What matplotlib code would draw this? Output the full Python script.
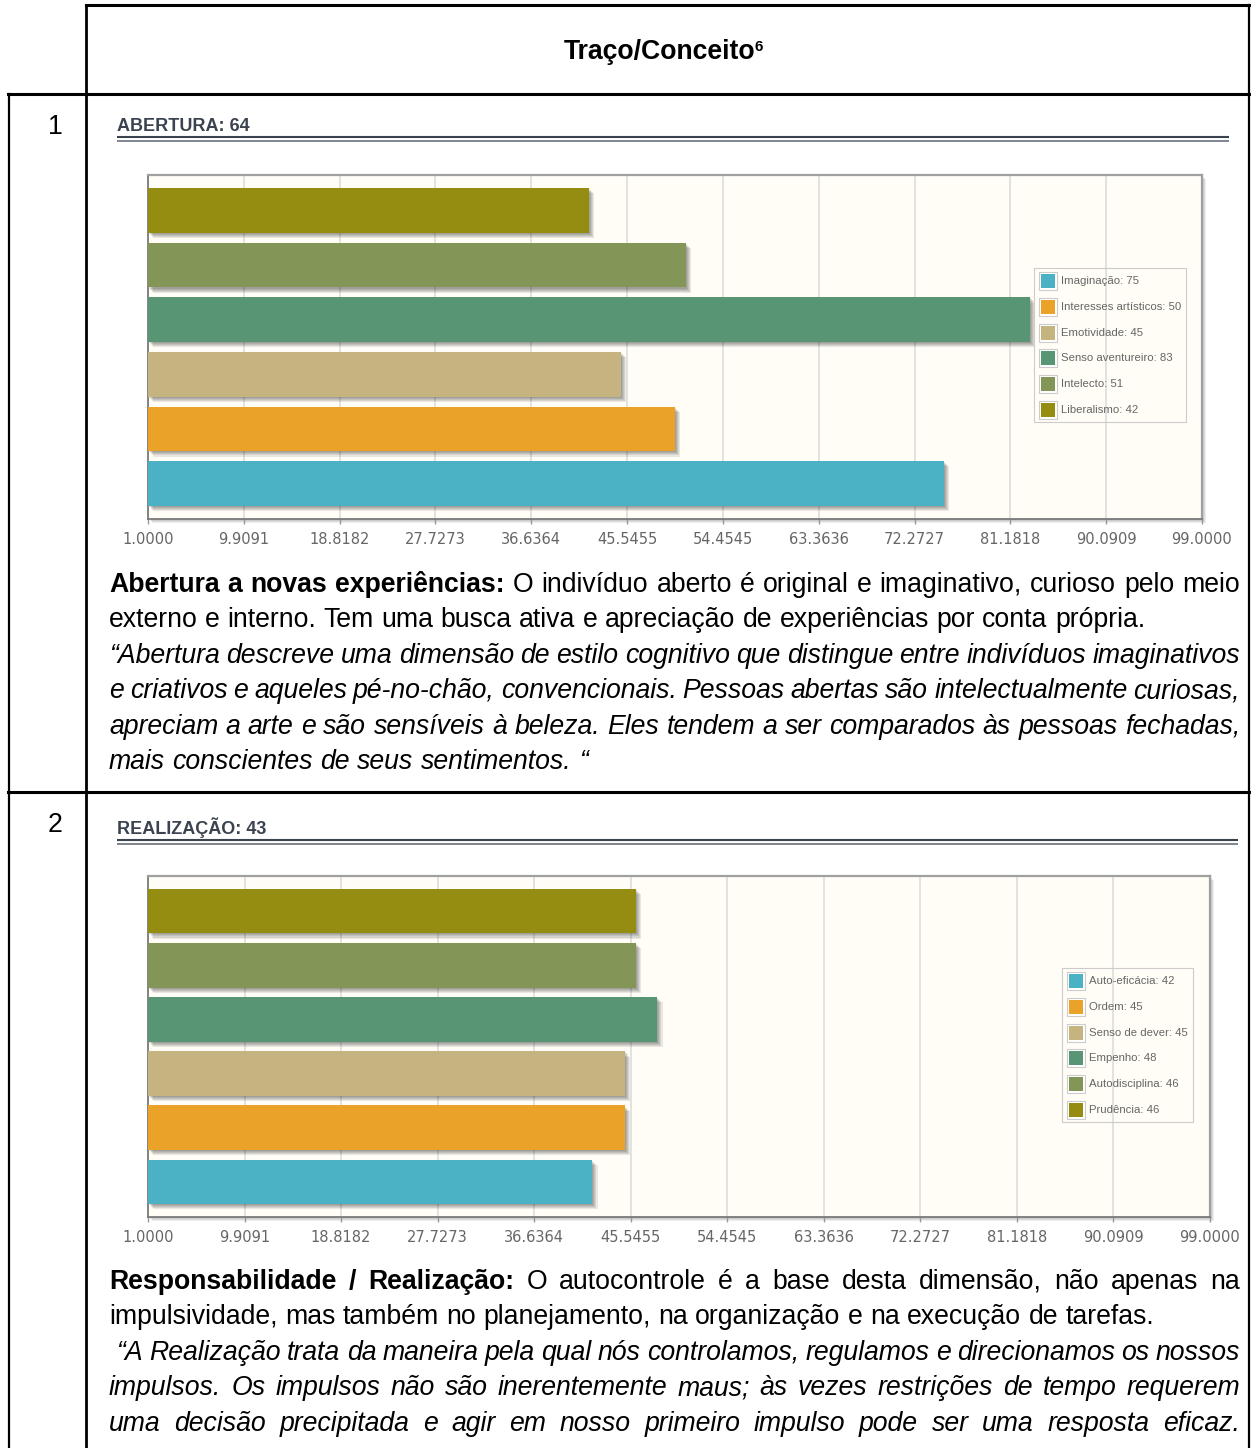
import matplotlib
matplotlib.use("Agg")
import matplotlib.pyplot as plt
import matplotlib.patheffects as pe
from matplotlib.patches import Rectangle
import numpy as np

W, H = 1251, 1448
FONT = "Liberation Sans"

# jqPlot default series colours
series_colors = ["#4bb2c5", "#eaa228", "#c5b47f", "#579575", "#839557", "#958c12"]

tick_values = [1.0, 9.9091, 18.8182, 27.7273, 36.6364, 45.5455,
               54.4545, 63.3636, 72.2727, 81.1818, 90.0909, 99.0]

abertura_title = "ABERTURA: 64"
abertura_labels = ["Imaginação", "Interesses artísticos", "Emotividade",
                   "Senso aventureiro", "Intelecto", "Liberalismo"]
abertura_values = [75, 50, 45, 83, 51, 42]

realizacao_title = "REALIZAÇÃO: 43"
realizacao_labels = ["Auto-eficácia", "Ordem", "Senso de dever",
                     "Empenho", "Autodisciplina", "Prudência"]
realizacao_values = [42, 45, 45, 48, 46, 46]

# paragraph lines: (runs, justified); run = (text, style)
abertura_text = [
    ([("Abertura a novas experiências:", "b"),
      ("O indivíduo aberto é original e imaginativo, curioso pelo meio", "r")], True),
    ([("externo e interno. Tem uma busca ativa e apreciação de experiências por conta própria.", "r")], False),
    ([("“Abertura descreve uma dimensão de estilo cognitivo que distingue entre indivíduos imaginativos", "i")], True),
    ([("e criativos e aqueles pé-no-chão, convencionais. Pessoas abertas são intelectualmente curiosas,", "i")], True),
    ([("apreciam a arte e são sensíveis à beleza. Eles tendem a ser comparados às pessoas fechadas,", "i")], True),
    ([("mais conscientes de seus sentimentos. “", "i")], False),
]
realizacao_text = [
    ([("Responsabilidade / Realização:", "b"),
      ("O autocontrole é a base desta dimensão, não apenas na", "r")], True),
    ([("impulsividade, mas também no planejamento, na organização e na execução de tarefas.", "r")], False),
    ([(" “A Realização trata da maneira pela qual nós controlamos, regulamos e direcionamos os nossos", "i")], True),
    ([("impulsos. Os impulsos não são inerentemente maus; às vezes restrições de tempo requerem", "i")], True),
    ([("uma decisão precipitada e agir em nosso primeiro impulso pode ser uma resposta eficaz.", "i")], True),
]

STYLES = {"b": dict(fontweight="bold"), "r": dict(), "i": dict(fontstyle="italic")}
BODY_SIZE = 19.2

fig = plt.figure(figsize=(W / 100, H / 100), dpi=100)
page = fig.add_axes([0, 0, 1, 1], zorder=0)
page.set_xlim(0, W)
page.set_ylim(H, 0)
page.axis("off")
overlay = fig.add_axes([0, 0, 1, 1], zorder=5)
overlay.set_xlim(0, W)
overlay.set_ylim(H, 0)
overlay.axis("off")
overlay.patch.set_alpha(0)
renderer = fig.canvas.get_renderer()


def fig_rect(left, top, right, bottom):
    return [left / W, 1 - bottom / H, (right - left) / W, (bottom - top) / H]


def measure(word, style, size=BODY_SIZE):
    t = page.text(0, 0, word, family=FONT, fontsize=size, **STYLES[style])
    w = t.get_window_extent(renderer).width
    t.remove()
    return w


def draw_paragraph(lines, x0, x1, y0, step):
    space = measure("x x", "r") - measure("xx", "r")
    for k, (runs, justified) in enumerate(lines):
        words = [(w, s) for text, s in runs for w in text.split()]
        widths = [measure(w, s) for w, s in words]
        start = x0 + (space if runs[0][0].startswith(" ") else 0)
        if justified and len(words) > 1:
            gap = (x1 - start - sum(widths)) / (len(words) - 1)
        else:
            gap = space
        x = start
        y = y0 + k * step
        for (w, s), wd in zip(words, widths):
            page.text(x, y, w, family=FONT, fontsize=BODY_SIZE, color="black",
                      ha="left", va="baseline", **STYLES[s])
            x += wd + gap


def shadow_effects(depth=5, alpha=0.085):
    fx = [pe.SimplePatchShadow(offset=(0.75 * i, -0.75 * i), shadow_rgbFace="black", alpha=alpha)
          for i in range(depth, 0, -1)]
    return fx + [pe.Normal()]


def bar_panel(box, title, title_y, rule_right, labels, values, legend_box):
    left, top, right, bottom = box

    page.text(117, title_y, title, family=FONT, fontsize=13, fontweight="bold",
              color="#3b4350", ha="left", va="baseline")
    page.plot([117, rule_right], [title_y + 6, title_y + 6], color="#3b4350", lw=1.5,
              solid_capstyle="butt")
    page.plot([117, rule_right], [title_y + 9.5, title_y + 9.5], color="#5d6572", lw=1.1,
              solid_capstyle="butt")

    # frame shadow
    for i in range(1, 5):
        page.add_patch(Rectangle((left + i, top + i), right - left, bottom - top,
                                 facecolor="black", alpha=0.07, edgecolor="none"))

    ax = fig.add_axes(fig_rect(left, top, right, bottom), zorder=1)
    ax.set_facecolor("#fffdf6")
    ypos = np.arange(1, len(values) + 1)
    xmin, xmax = tick_values[0], tick_values[-1]
    bars = ax.barh(ypos, np.array(values) - xmin, left=xmin, height=0.82,
                   color=series_colors[:len(values)], edgecolor="none", zorder=3)
    for b in bars:
        b.set_path_effects(shadow_effects())
    ax.set_xlim(xmin, xmax)
    ax.set_ylim(0.35, len(values) + 0.65)
    ax.set_xticks(tick_values)
    ax.set_xticklabels([f"{v:.4f}" for v in tick_values])
    ax.set_yticks([])
    ax.tick_params(axis="x", direction="out", length=3.6, width=1, color="#999999",
                   labelcolor="#666666", labelsize=10.5, pad=5.5)
    for lab in ax.get_xticklabels():
        lab.set_family("DejaVu Sans")
    ax.grid(axis="x", color="#dadada", lw=1.1)
    ax.set_axisbelow(True)
    for side in ("top", "right"):
        ax.spines[side].set_color("#a0a0a0")
        ax.spines[side].set_linewidth(1.6)
    for side in ("left", "bottom"):
        ax.spines[side].set_color("#7a7a7a")
        ax.spines[side].set_linewidth(1.3)

    # legend
    lx0, ly0, lx1, ly1 = legend_box
    overlay.add_patch(Rectangle((lx0, ly0), lx1 - lx0, ly1 - ly0, facecolor="none",
                                edgecolor="#cccccc", lw=0.8))
    for i, (lab, val) in enumerate(zip(labels, values)):
        cy = ly0 + 13 + i * 25.8
        sx = lx0 + 5
        overlay.add_patch(Rectangle((sx, cy - 9), 18, 18, facecolor="white",
                                    edgecolor="#cccccc", lw=0.8))
        overlay.add_patch(Rectangle((sx + 2, cy - 7), 14, 14,
                                    facecolor=series_colors[i], edgecolor="none"))
        overlay.text(sx + 22, cy, f"{lab}: {val}", family=FONT, fontsize=8.2,
                     color="#666666", ha="left", va="center")
    return ax


# table grid
LINE = dict(color="black", solid_capstyle="projecting")
page.plot([86, W], [5, 5], lw=2.2, **LINE)
page.plot([8, W], [94, 94], lw=2.2, **LINE)
page.plot([8, W], [792, 792], lw=2.2, **LINE)
page.plot([86, 86], [5, H], lw=2.0, **LINE)
page.plot([9, 9], [94, H], lw=1.6, **LINE)
page.plot([1249, 1249], [5, H], lw=1.6, **LINE)

# header
head_w = measure("Traço/Conceito", "b")
head_x = 664 - (head_w + 8) / 2
page.text(head_x, 59, "Traço/Conceito", family=FONT, fontsize=BODY_SIZE,
          fontweight="bold", ha="left", va="baseline")
page.text(head_x + head_w - 1, 51, "6", family=FONT, fontsize=11, fontweight="bold",
          ha="left", va="baseline")

page.text(55, 134, "1", family=FONT, fontsize=BODY_SIZE, ha="center", va="baseline")
page.text(55, 832, "2", family=FONT, fontsize=BODY_SIZE, ha="center", va="baseline")

bar_panel((148, 175, 1202, 519), abertura_title, 131, 1229,
          abertura_labels, abertura_values, (1034, 268, 1186, 422))
bar_panel((148, 876, 1210, 1217), realizacao_title, 834, 1238,
          realizacao_labels, realizacao_values, (1062, 968, 1193, 1122))

draw_paragraph(abertura_text, 109, 1240, 592, 35.4)
draw_paragraph(realizacao_text, 109, 1240, 1289, 35.4)

fig.savefig("out.png", dpi=100)
